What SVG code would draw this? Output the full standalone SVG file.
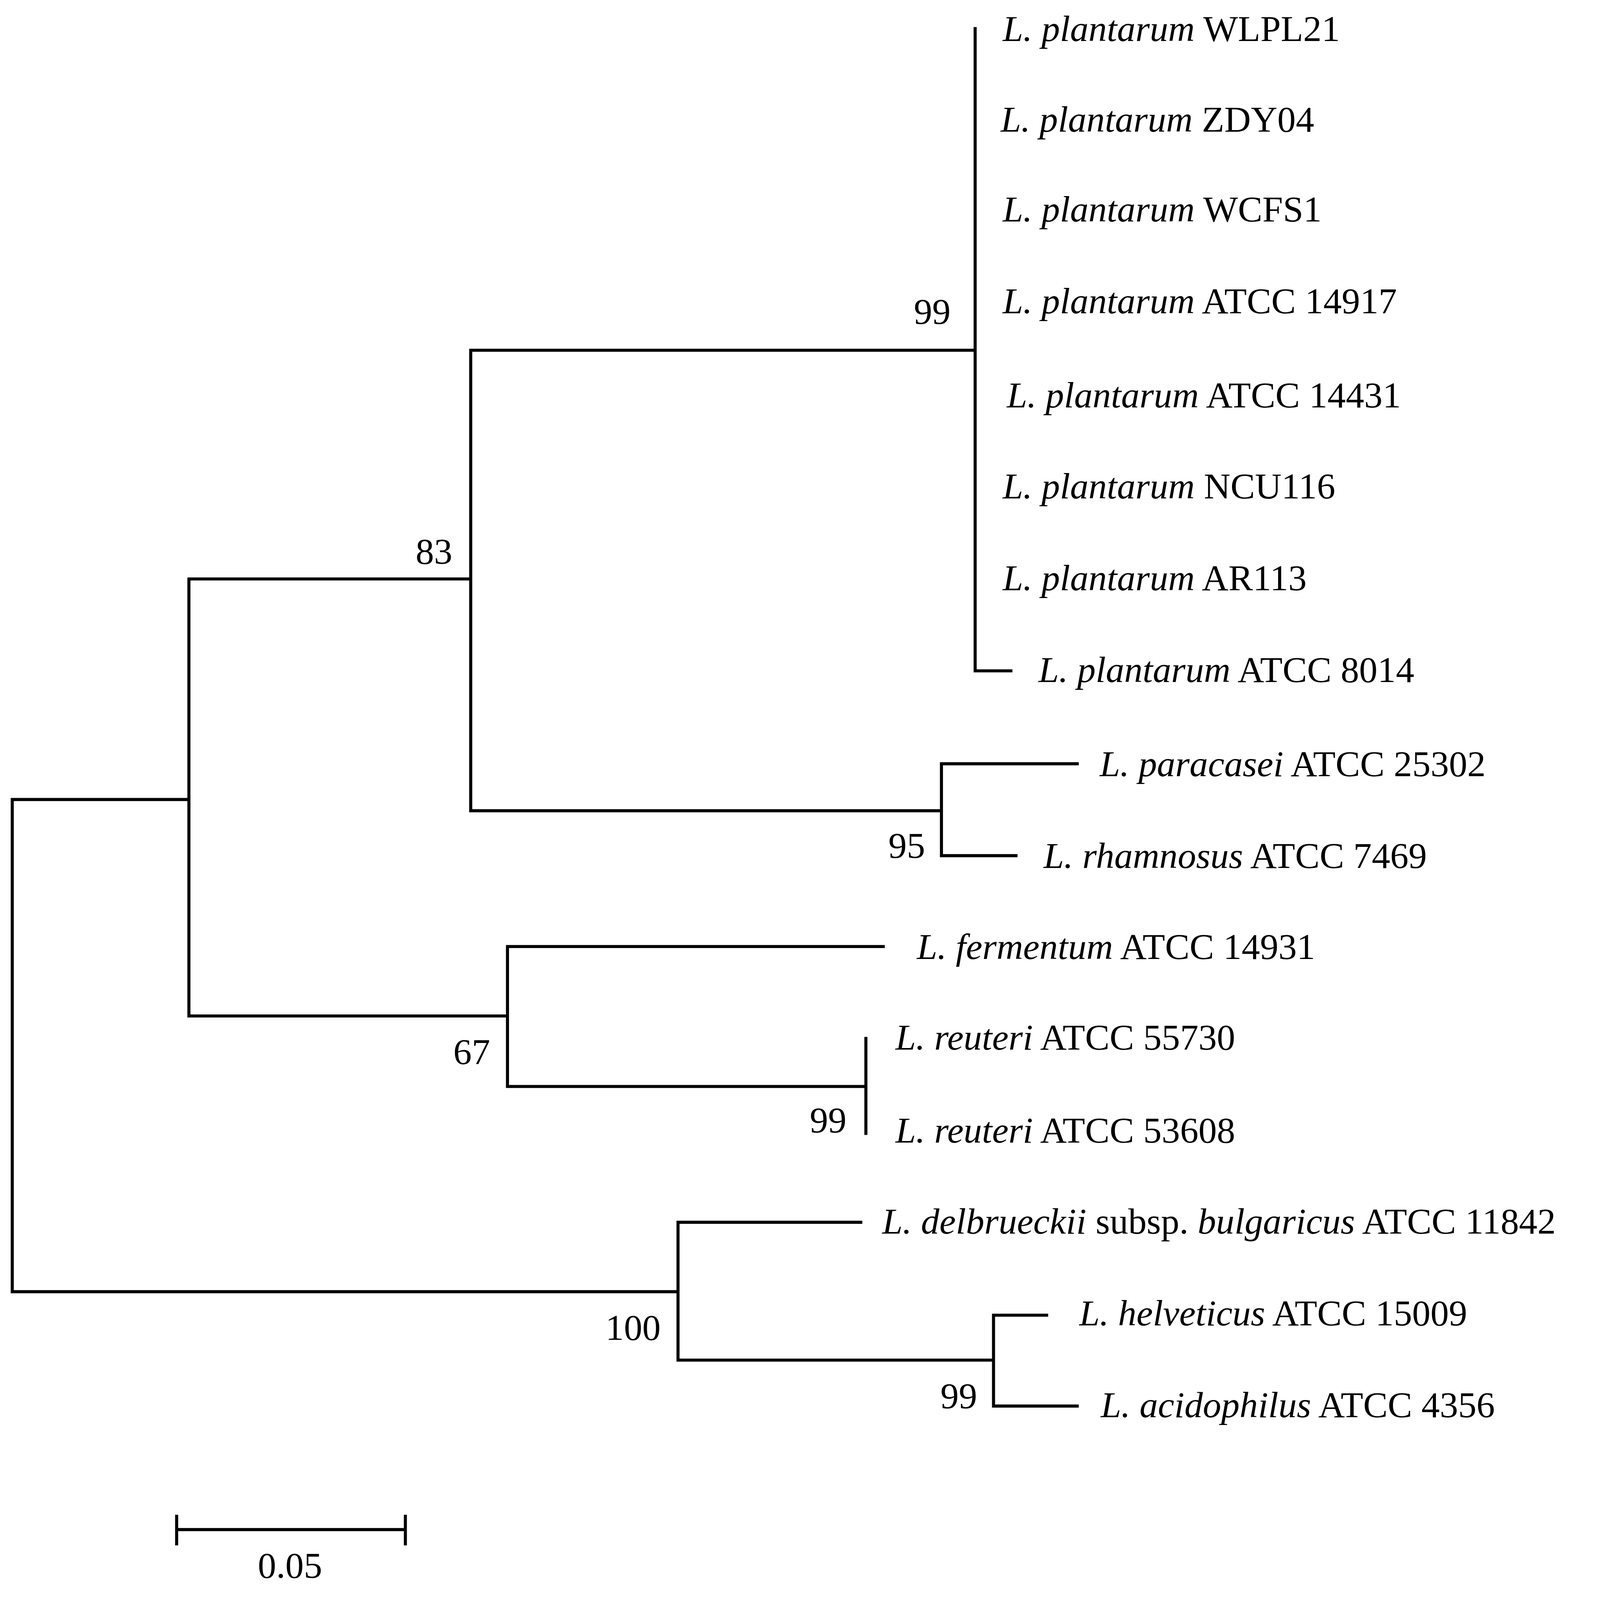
<svg xmlns="http://www.w3.org/2000/svg" width="4197" height="4208" viewBox="0 0 4197 4208">
<style>
.b{fill:none;stroke:#000;stroke-width:3;stroke-linecap:square}
text{font-family:"Liberation Serif","Times New Roman",serif;font-size:36px;fill:#000}
.i{font-style:italic}
.n{text-anchor:middle}
</style>
<rect width="4197" height="4208" fill="#fff"/>
<g transform="scale(2.614)">
<g id="connectors">
<path class="b" d="M12,783V1265M12,783H185M185,567V995M185,567H461M461,343V794M461,343H955M955,28V657M955,657H990
M461,794H922M922,748V838M922,748H1055M922,838H995
M185,995H497M497,927V1064M497,927H865M497,1064H848M848,1017V1110
M12,1265H664M664,1197V1332M664,1197H843M664,1332H973M973,1288V1377M973,1288H1025M973,1377H1055"/>
<path class="b" d="M173,1498H397M173,1485V1512M397,1485V1512"/>
</g>
<g id="leaves">
<text x="982" y="40"><tspan class="i">L. plantarum</tspan> WLPL21</text>
<text x="980" y="129"><tspan class="i">L. plantarum</tspan> ZDY04</text>
<text x="982" y="217"><tspan class="i">L. plantarum</tspan> WCFS1</text>
<text x="982" y="307"><tspan class="i">L. plantarum</tspan> ATCC 14917</text>
<text x="986" y="399"><tspan class="i">L. plantarum</tspan> ATCC 14431</text>
<text x="982" y="488"><tspan class="i">L. plantarum</tspan> NCU116</text>
<text x="982" y="578"><tspan class="i">L. plantarum</tspan> AR113</text>
<text x="1017" y="668"><tspan class="i">L. plantarum</tspan> ATCC 8014</text>
<text x="1077" y="760"><tspan class="i">L. paracasei</tspan> ATCC 25302</text>
<text x="1022" y="850"><tspan class="i">L. rhamnosus</tspan> ATCC 7469</text>
<text x="898" y="939"><tspan class="i">L. fermentum</tspan> ATCC 14931</text>
<text x="877" y="1028"><tspan class="i">L. reuteri</tspan> ATCC 55730</text>
<text x="877" y="1119"><tspan class="i">L. reuteri</tspan> ATCC 53608</text>
<text x="864" y="1208"><tspan class="i">L. delbrueckii</tspan> subsp. <tspan class="i">bulgaricus</tspan> ATCC 11842</text>
<text x="1057" y="1298"><tspan class="i">L. helveticus</tspan> ATCC 15009</text>
<text x="1078" y="1388"><tspan class="i">L. acidophilus</tspan> ATCC 4356</text>
</g>
<g id="bootstrap">
<text class="n" x="913" y="317">99</text>
<text class="n" x="425" y="552">83</text>
<text class="n" x="888" y="840">95</text>
<text class="n" x="462" y="1042">67</text>
<text class="n" x="811" y="1109">99</text>
<text class="n" x="620" y="1312">100</text>
<text class="n" x="939" y="1379">99</text>
<text class="n" x="284" y="1545">0.05</text>
</g>
</g>
</svg>
